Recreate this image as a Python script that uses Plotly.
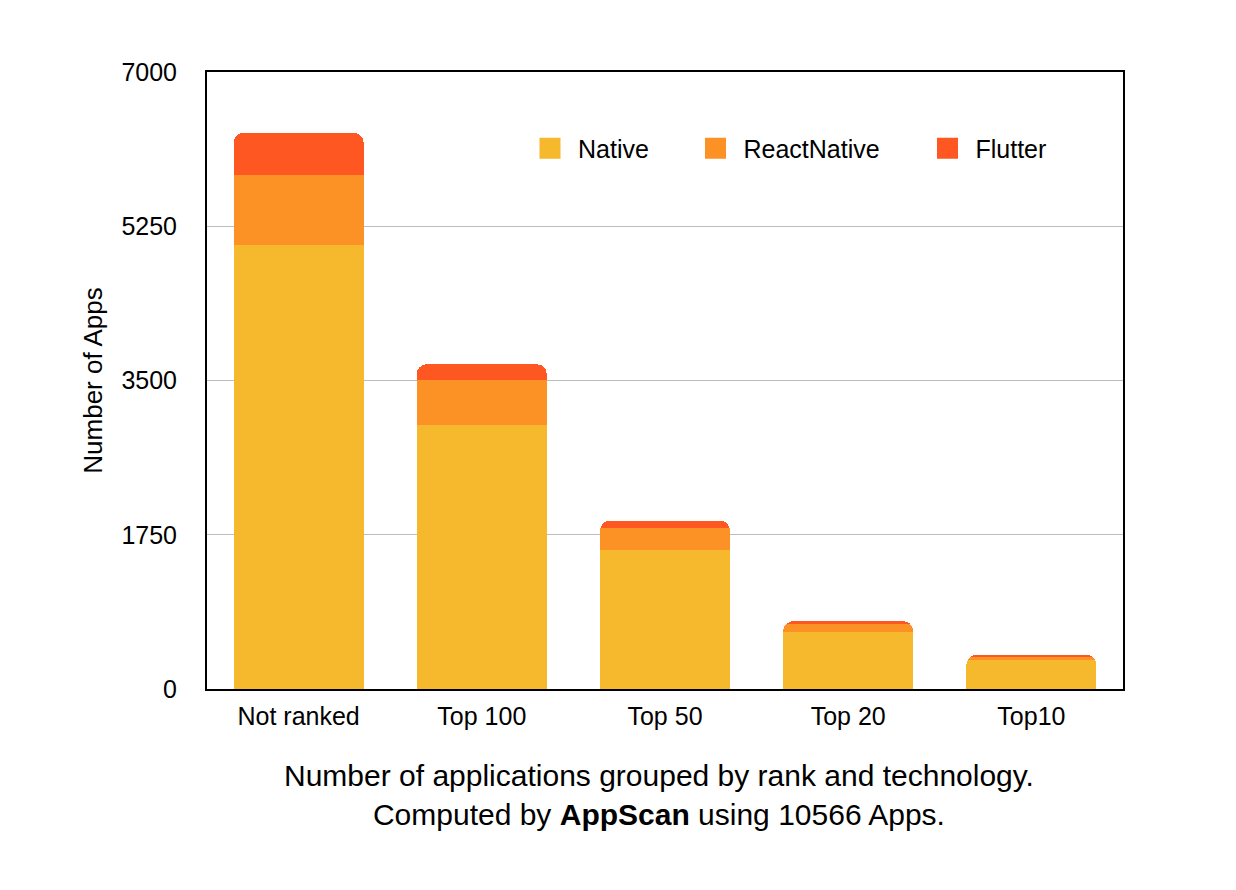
import plotly.graph_objects as go

categories = ["Not ranked", "Top 100", "Top 50", "Top 20", "Top10"]
native = [5040, 2995, 1577, 643, 326]
react_native = [790, 510, 250, 100, 48]
flutter = [480, 180, 80, 26, 12]
y_ticks = [0, 1750, 3500, 5250, 7000]

series = [
    ("Native", native, "#F6B82D"),
    ("ReactNative", react_native, "#FC9226"),
    ("Flutter", flutter, "#FE5722"),
]

FONT = "Liberation Sans, Arial, Helvetica, sans-serif"

fig = go.Figure()
legend_ids = ["legend", "legend2", "legend3"]
for (name, vals, color), lid in zip(series, legend_ids):
    fig.add_trace(go.Bar(
        x=categories, y=vals, name=name,
        marker=dict(color=color, line=dict(width=0)),
        showlegend=False, hoverinfo="x+y+name",
    ))
for (name, vals, color), lid in zip(series, legend_ids):
    fig.add_trace(go.Scatter(
        x=[None], y=[None], mode="markers", name=name,
        marker=dict(symbol="square", size=16, color=color,
                    line=dict(width=5, color=color)),
        showlegend=True, legend=lid, hoverinfo="skip",
    ))

# page body has an ~8px offset; compensate in margins
OFF = 8
x0, x1, y0, y1 = 207 - OFF, 1123 - OFF, 72 - OFF, 689 - OFF
W, H = 1236, 890

def lx(px):
    return (px - OFF - x0) / (x1 - x0)

def ly(py):
    return (y1 - (py - OFF)) / (y1 - y0)

leg_common = dict(
    orientation="h", yanchor="middle", xanchor="left",
    bgcolor="rgba(0,0,0,0)", borderwidth=0,
    font=dict(family=FONT, size=25, color="#000000"),
    itemwidth=46,
)

fig.update_layout(
    width=W, height=H,
    paper_bgcolor="white", plot_bgcolor="white",
    margin=dict(l=x0, r=W - x1, t=y0, b=H - y1, pad=0),
    barmode="stack", bargap=0.29, barcornerradius=10,
    font=dict(family=FONT, size=25, color="#000000"),
    legend=dict(x=lx(522), y=ly(148.5), **leg_common),
    legend2=dict(x=lx(687.5), y=ly(148.5), **leg_common),
    legend3=dict(x=lx(919.5), y=ly(148.5), **leg_common),
    xaxis=dict(
        showline=True, linecolor="#000000", linewidth=2, mirror=True,
        showgrid=False, ticks="", ticklabelstandoff=4,
        tickfont=dict(family=FONT, size=25, color="#000000"),
    ),
    yaxis=dict(
        range=[0, 7000], tickvals=y_ticks,
        ticktext=[str(v) for v in y_ticks],
        showline=True, linecolor="#000000", linewidth=2, mirror=True,
        showgrid=True, gridcolor="#BDBDBD", gridwidth=1, zeroline=False,
        ticks="", ticklabelstandoff=23,
        tickfont=dict(family=FONT, size=25, color="#000000"),
        title=dict(text="Number of Apps", standoff=11,
                   font=dict(family=FONT, size=26, color="#000000")),
    ),
    annotations=[dict(
        text="Number of applications grouped by rank and technology.<br>"
             "Computed by <b>AppScan</b> using 10566 Apps.",
        xref="paper", yref="paper", x=lx(659), y=ly(795),
        xanchor="center", yanchor="middle", showarrow=False,
        font=dict(family=FONT, size=30, color="#000000"),
    )],
)

fig.write_html("out.html")
